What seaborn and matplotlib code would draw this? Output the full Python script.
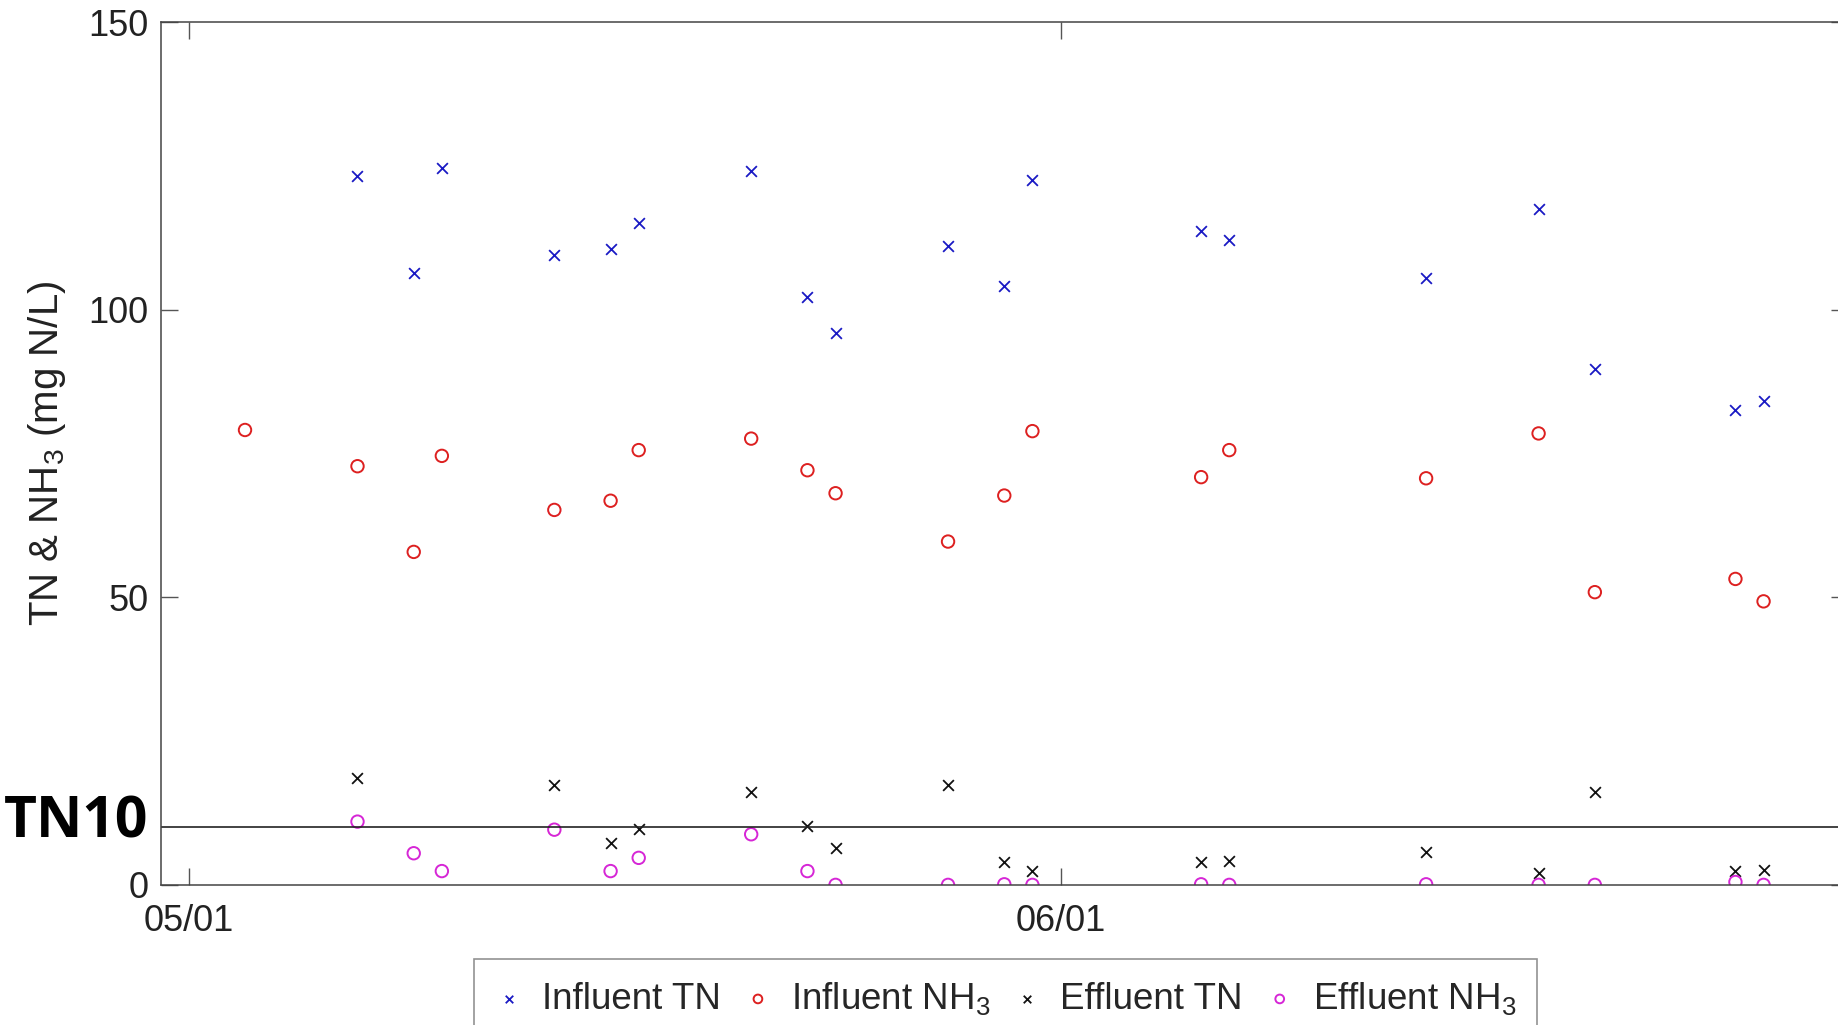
import pandas as pd
import seaborn as sns
import matplotlib.pyplot as plt
import matplotlib.dates as mdates
import matplotlib.transforms as mtransforms

YEAR = '2018'

# sampling days
inf_tn_dates = ['05-07', '05-09', '05-10', '05-14', '05-16', '05-17', '05-21', '05-23', '05-24', '05-28',
                '05-30', '05-31', '06-06', '06-07', '06-14', '06-18', '06-20', '06-25', '06-26']
inf_nh3_dates = ['05-03'] + inf_tn_dates
eff_tn_dates = ['05-07', '05-14', '05-16', '05-17', '05-21', '05-23', '05-24', '05-28', '05-30', '05-31',
                '06-06', '06-07', '06-14', '06-18', '06-20', '06-25', '06-26']
eff_nh3_dates = inf_tn_dates

# concentrations (mg N/L)
inf_tn = [123.3, 106.4, 124.7, 109.6, 110.5, 115.1, 124.1, 102.3, 96.0, 111.1,
          104.1, 122.5, 113.7, 112.1, 105.6, 117.6, 89.7, 82.5, 84.2]
inf_nh3 = [79.1, 72.8, 57.9, 74.6, 65.2, 66.8, 75.6, 77.6, 72.1, 68.1,
           59.7, 67.7, 78.9, 70.9, 75.6, 70.7, 78.5, 50.9, 53.2, 49.3]
eff_tn = [18.5, 17.3, 7.3, 9.8, 16.1, 10.2, 6.5, 17.3, 3.9, 2.4,
          3.9, 4.1, 5.7, 2.0, 16.1, 2.4, 2.6]
eff_nh3 = [11.0, 5.5, 2.4, 9.6, 2.4, 4.7, 8.8, 2.4, 0.0, 0.0,
           0.1, 0.0, 0.1, 0.0, 0.1, 0.0, 0.0, 0.5, 0.0]

tn_limit = 10


def to_dt(days):
    return pd.to_datetime([YEAR + '-' + d for d in days])


sns.set_style('ticks')
plt.rcParams['font.family'] = ['Liberation Sans', 'DejaVu Sans']
plt.rcParams['mathtext.default'] = 'regular'

fig = plt.figure(figsize=(18.38, 10.25), dpi=100)
ax = fig.add_axes([0.0874, 0.1367, 0.918, 0.8416])

sns.scatterplot(x=to_dt(inf_tn_dates), y=inf_tn, marker='x', color='#1a1ac4', s=60,
                linewidth=1.3, label='Influent TN', ax=ax)
sns.scatterplot(x=to_dt(inf_nh3_dates), y=inf_nh3, marker='o', color='#dd2020', facecolor='none',
                edgecolor='#dd2020', s=80, linewidth=1.4, label='Influent NH$_3$', ax=ax)
sns.scatterplot(x=to_dt(eff_tn_dates), y=eff_tn, marker='x', color='#111111', s=60,
                linewidth=1.3, label='Effluent TN', ax=ax)
sns.scatterplot(x=to_dt(eff_nh3_dates), y=eff_nh3, marker='o', color='#d626d6', facecolor='none',
                edgecolor='#d626d6', s=80, linewidth=1.4, label='Effluent NH$_3$', ax=ax)

ax.axhline(tn_limit, color='#222222', lw=1.2)
trans = mtransforms.blended_transform_factory(fig.transFigure, ax.transData)
ax.text(0.002, tn_limit + 0.8, 'TN10', transform=trans, ha='left', va='center', color='black',
        fontsize=41, fontweight='bold', family=['Open Sans', 'DejaVu Sans'], clip_on=False)

ax.set_xlim(pd.Timestamp(YEAR + '-04-30'), pd.Timestamp(YEAR + '-06-29'))
ax.set_ylim(0, 150)
ax.set_yticks([0, 50, 100, 150])
ax.xaxis.set_major_locator(mdates.MonthLocator())
ax.xaxis.set_major_formatter(mdates.DateFormatter('%m/%d'))
ax.tick_params(direction='in', length=12, width=1, top=True, right=True,
               labelsize=26, color='#555555', labelcolor='#222222', pad=9)
ax.tick_params(axis='x', pad=14)
for sp in ax.spines.values():
    sp.set_visible(True)
    sp.set_color('#444444')
    sp.set_linewidth(1.1)

ax.set_xlabel('')
ax.set_ylabel('TN & NH$_3$ (mg N/L)', fontsize=29, color='#222222', labelpad=14)

handles, labels = ax.get_legend_handles_labels()
if ax.get_legend() is not None:
    ax.get_legend().remove()
leg = fig.legend(handles, labels, loc='upper center', bbox_to_anchor=(0.547, 0.082), ncol=4,
                 fontsize=26.5, frameon=True, fancybox=False, edgecolor='#777777',
                 handlelength=0.8, handletextpad=0.5, columnspacing=0.6, markerscale=0.7,
                 scatterpoints=1, borderpad=0.55)
leg.get_frame().set_linewidth(1.2)

plt.savefig('out.png', dpi=100)
